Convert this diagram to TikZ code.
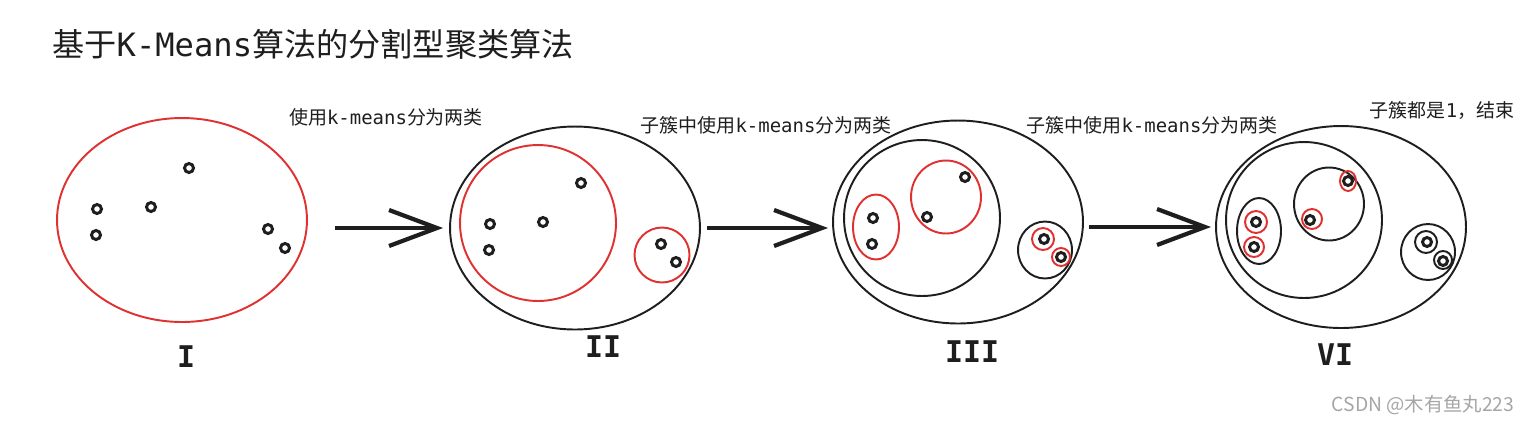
\documentclass[tikz,border=0pt]{standalone}
\usepackage{fontspec}
\setmainfont{Noto Sans CJK SC}
\setmonofont{DejaVu Sans Mono}
\usetikzlibrary{shapes.geometric,arrows.meta}
\definecolor{kred}{HTML}{E03131}
\definecolor{ink}{HTML}{1E1E1E}
\newcommand{\kmeans}{\texttt{k-means}}

\begin{document}
\begin{tikzpicture}[
    x=0.02cm, y=-0.02cm,
    cluster/.style={draw=ink, ellipse, line width=1.1pt, inner sep=0pt, outer sep=0pt},
    split/.style={cluster, draw=kred},
    pt/.style={draw=ink, circle, line width=1.7pt, minimum size=0.18cm, inner sep=0pt},
    flow/.style={draw=ink, line width=2.4pt, -{Straight Barb[length=0.96cm, width=0.72cm]}},
    note/.style={text=ink, inner sep=0pt, font=\fontsize{10.8}{13}\selectfont},
    roman/.style={text=ink, inner sep=0pt, font=\fontsize{17}{20}\selectfont\ttfamily\bfseries}
]
  \useasboundingbox (0,0) rectangle (1533,424);

  % Title
  \node[anchor=west, text=ink, inner sep=0pt, font=\fontsize{18.3}{22}\selectfont] (title) at (52,44)
    {基于\texttt{K-Means}算法的分割型聚类算法};

  % Step I
  \node[split, minimum width=5cm, minimum height=4.08cm] (c1) at (182,220) {};
  \foreach \x/\y [count=\i] in {189/168, 97/209, 151/207, 96/235, 268/229, 285/248}
    \node[pt] (p1-\i) at (\x,\y) {};
  \node[roman] (r1) at (186,357) {I};

  % Step II
  \node[cluster, minimum width=5cm, minimum height=4.06cm] (c2) at (575,228) {};
  \node[split, minimum size=3.12cm] (s2a) at (538,223) {};
  \node[split, minimum size=1.1cm] (s2b) at (662,255) {};
  \foreach \x/\y [count=\i] in {581/183, 490/224, 543/222, 489/250, 661/244, 676/262}
    \node[pt] (p2-\i) at (\x,\y) {};
  \node[roman] (r2) at (603,347) {II};

  % Step III
  \node[cluster, minimum width=5cm, minimum height=4.06cm] (c3) at (958,222) {};
  \node[cluster, minimum size=3.12cm] (k3a) at (922,218) {};
  \node[cluster, minimum width=1.08cm, minimum height=1.14cm] (k3b) at (1045,250) {};
  \node[split, minimum width=0.92cm, minimum height=1.3cm] (s3a) at (876,227) {};
  \node[split, minimum width=1.4cm, minimum height=1.46cm] (s3b) at (946,197) {};
  \node[split, minimum size=0.44cm] (s3c) at (1043,239) {};
  \node[split, minimum size=0.36cm] (s3d) at (1061,257) {};
  \foreach \x/\y [count=\i] in {965/177, 873/218, 927/217, 872/244, 1044/239, 1061/257}
    \node[pt] (p3-\i) at (\x,\y) {};
  \node[roman] (r3) at (972,352) {III};

  % Step VI
  \node[cluster, minimum width=5cm, minimum height=4.04cm] (c4) at (1341,227) {};
  \node[cluster, minimum size=3.12cm] (k4a) at (1304,220) {};
  \node[cluster, minimum width=0.88cm, minimum height=1.32cm] (k4b) at (1259,231) {};
  \node[cluster, minimum width=1.4cm, minimum height=1.46cm] (k4c) at (1329,204) {};
  \node[cluster, minimum width=1.08cm, minimum height=1.12cm] (k4d) at (1428,252) {};
  \node[split, minimum size=0.44cm] (s4a) at (1256,222) {};
  \node[split, minimum size=0.4cm] (s4b) at (1254,247) {};
  \node[split, minimum width=0.32cm, minimum height=0.4cm] (s4c) at (1348,181) {};
  \node[split, minimum size=0.4cm] (s4d) at (1312,219) {};
  \node[cluster, minimum size=0.44cm] (k4e) at (1426,242) {};
  \node[cluster, minimum size=0.36cm] (k4f) at (1443,260) {};
  \foreach \x/\y [count=\i] in {1348/181, 1256/222, 1310/220, 1254/247, 1427/242, 1443/261}
    \node[pt] (p4-\i) at (\x,\y) {};
  \node[roman] (r4) at (1335,355) {VI};

  % Arrows between steps
  \draw[flow, shorten <=0.56cm, shorten >=0.14cm] (c1.east |- c2.west) -- (c2.west);
  \draw[flow, shorten <=0.14cm, shorten >=0.1cm] (c2.east) -- (c3.west |- c2.east);
  \draw[flow, shorten <=0.12cm, shorten >=0.1cm] (c3.east |- c4.west) -- (c4.west);

  % Notes
  \node[note] (n1) at (386,117) {使用\kmeans 分为两类};
  \node[note] (n2) at (766,125) {子簇中使用\kmeans 分为两类};
  \node[note] (n3) at (1152,125) {子簇中使用\kmeans 分为两类};
  \node[note] (n4) at (1442,110) {子簇都是\texttt{1}，结束};

  \node[text=gray!70, inner sep=0pt, font=\fontsize{11}{13}\selectfont] (mark) at (1423,405) {CSDN @木有鱼丸223};
\end{tikzpicture}
\end{document}
